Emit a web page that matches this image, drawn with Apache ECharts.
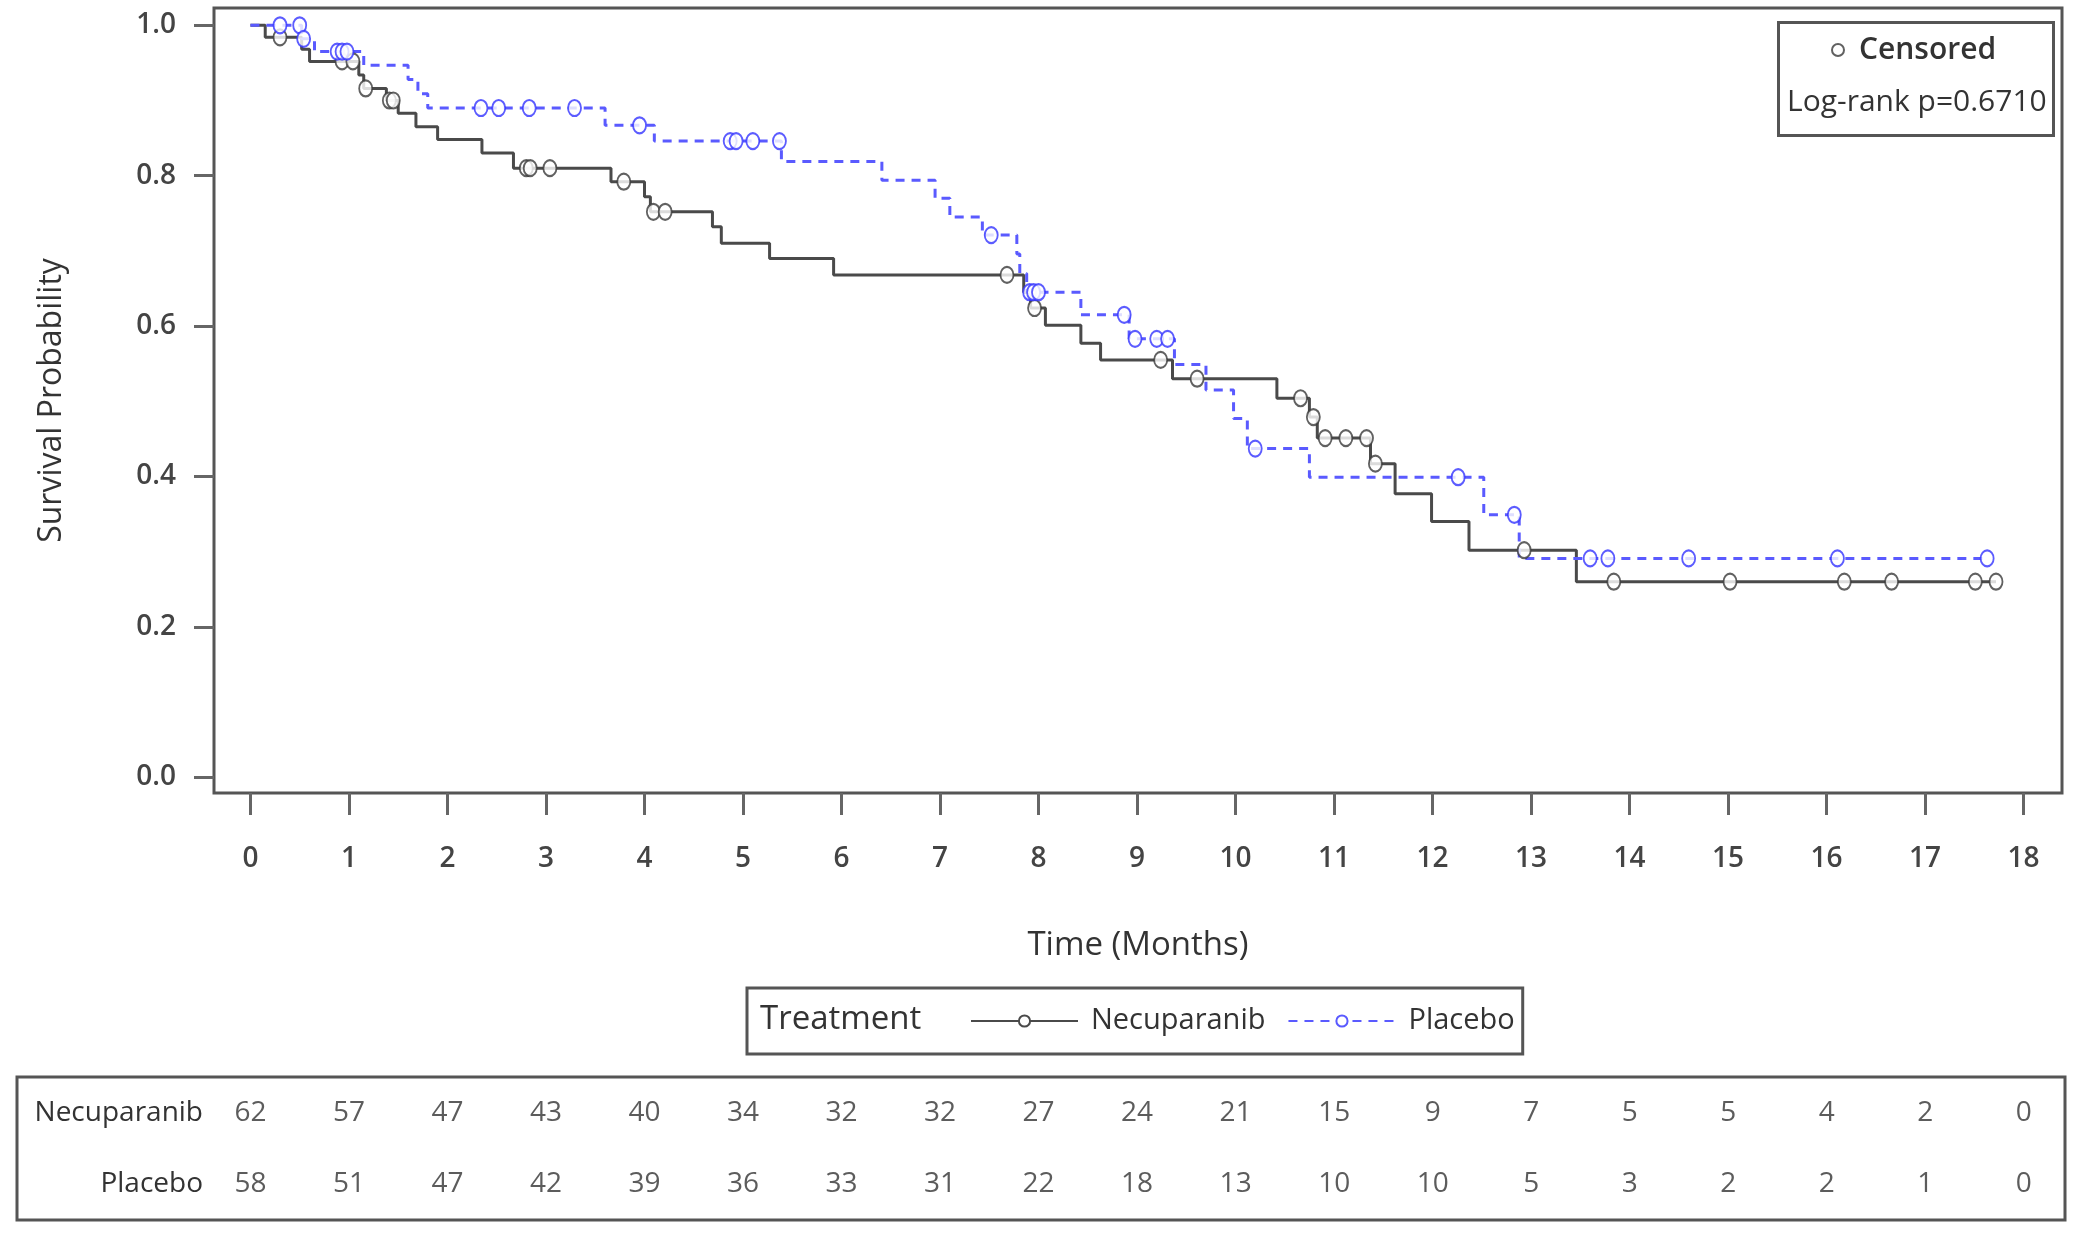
<!DOCTYPE html>
<html>
<head>
<meta charset="utf-8">
<script src="https://cdn.jsdelivr.net/npm/echarts@6/dist/echarts.min.js"></script>
<style>
html,body{margin:0;padding:0;background:#fff;}
#chart{width:2100px;height:1240px;}
</style>
</head>
<body>
<div id="chart"></div>
<script>
// ---- Kaplan-Meier step points (time in months, survival probability) ----
const necuTime = [0, 0.15, 0.52, 0.60, 1.10, 1.15, 1.38, 1.50, 1.68, 1.90, 2.35, 2.67, 3.66, 4.00, 4.06, 4.69, 4.78, 5.27, 5.92, 7.85, 7.92, 8.07, 8.43, 8.63, 9.36, 10.42, 10.75, 10.83, 11.37, 11.62, 11.99, 12.37, 13.46, 17.72];
const necuSurv = [1.0, 0.984, 0.968, 0.952, 0.934, 0.916, 0.900, 0.883, 0.865, 0.848, 0.830, 0.810, 0.792, 0.772, 0.752, 0.732, 0.710, 0.690, 0.668, 0.645, 0.624, 0.601, 0.577, 0.555, 0.530, 0.504, 0.479, 0.451, 0.417, 0.377, 0.340, 0.302, 0.260, 0.260];
const necuCensTime = [0.30, 0.93, 1.04, 1.17, 1.41, 1.45, 2.80, 2.84, 3.04, 3.79, 4.09, 4.21, 7.68, 7.96, 9.24, 9.61, 10.66, 10.79, 10.91, 11.12, 11.33, 11.42, 12.93, 13.84, 15.02, 16.18, 16.66, 17.51, 17.72];
const necuCensSurv = [0.984, 0.952, 0.952, 0.916, 0.900, 0.900, 0.810, 0.810, 0.810, 0.792, 0.752, 0.752, 0.668, 0.624, 0.555, 0.530, 0.504, 0.479, 0.451, 0.451, 0.451, 0.417, 0.302, 0.260, 0.260, 0.260, 0.260, 0.260, 0.260];

const placTime = [0, 0.52, 0.65, 1.15, 1.60, 1.70, 1.80, 3.60, 4.10, 5.39, 6.41, 6.95, 7.10, 7.43, 7.78, 7.81, 7.88, 8.43, 8.92, 9.38, 9.70, 9.98, 10.12, 10.75, 12.52, 12.88, 17.63];
const placSurv = [1.0, 0.982, 0.965, 0.947, 0.928, 0.909, 0.890, 0.867, 0.846, 0.819, 0.794, 0.770, 0.745, 0.721, 0.696, 0.670, 0.645, 0.615, 0.583, 0.549, 0.515, 0.477, 0.437, 0.399, 0.349, 0.291, 0.291];
const placCensTime = [0.30, 0.50, 0.54, 0.88, 0.93, 0.98, 2.34, 2.52, 2.83, 3.29, 3.95, 4.87, 4.93, 5.10, 5.37, 7.52, 7.91, 7.95, 8.00, 8.87, 8.98, 9.20, 9.31, 10.20, 12.26, 12.83, 13.60, 13.78, 14.60, 16.11, 17.63];
const placCensSurv = [1.0, 1.0, 0.982, 0.965, 0.965, 0.965, 0.890, 0.890, 0.890, 0.890, 0.867, 0.846, 0.846, 0.846, 0.846, 0.721, 0.645, 0.645, 0.645, 0.615, 0.583, 0.583, 0.583, 0.437, 0.399, 0.349, 0.291, 0.291, 0.291, 0.291, 0.291];

// ---- axis ticks & number at risk ----
const xTicks = [0,1,2,3,4,5,6,7,8,9,10,11,12,13,14,15,16,17,18];
const yTicks = [0, 0.2, 0.4, 0.6, 0.8, 1.0];
const groups = ['Necuparanib', 'Placebo'];
const riskNecu = [62,57,47,43,40,34,32,32,27,24,21,15,9,7,5,5,4,2,0];
const riskPlac = [58,51,47,42,39,36,33,31,22,18,13,10,10,5,3,2,2,1,0];
const pValueText = 'Log-rank p=0.6710';

const FONT = '"Open Sans", "DejaVu Sans", sans-serif';
const necuColor = '#4a4a4a';
const placColor = '#5a5aff';
const frameColor = '#555555';

const zip = (a, b) => a.map((v, i) => [v, b[i]]);

const chart = echarts.init(document.getElementById('chart'), null, {renderer: 'canvas'});
const option = {
  backgroundColor: '#ffffff',
  animation: false,
  textStyle: {fontFamily: FONT, color: '#333'},
  grid: [
    {left: 214, top: 8, right: 38, bottom: 447, show: true, borderColor: frameColor, borderWidth: 3, backgroundColor: '#fff'},
    {left: 17, top: 1077, right: 35, bottom: 20, show: true, borderColor: frameColor, borderWidth: 3}
  ],
  xAxis: [
    {
      type: 'value', gridIndex: 0, min: -0.37, max: 18.39,
      name: 'Time (Months)', nameLocation: 'middle', nameGap: 136,
      nameTextStyle: {fontSize: 33, color: '#333', fontFamily: FONT},
      axisLine: {show: false, onZero: false},
      axisTick: {show: true, customValues: xTicks, length: 22, lineStyle: {color: '#666', width: 3}},
      axisLabel: {show: true, customValues: xTicks, margin: 52, fontSize: 28, fontWeight: 600, color: '#444', fontFamily: FONT},
      splitLine: {show: false}
    },
    {
      type: 'value', gridIndex: 1, min: -2.369, max: 18.418, show: false
    }
  ],
  yAxis: [
    {
      type: 'value', gridIndex: 0, min: -0.021, max: 1.023,
      name: 'Survival Probability', nameLocation: 'middle', nameGap: 146,
      nameTextStyle: {fontSize: 32, color: '#333', fontFamily: FONT},
      axisLine: {show: false, onZero: false},
      axisTick: {show: true, customValues: yTicks, length: 20, lineStyle: {color: '#666', width: 3}},
      axisLabel: {show: true, customValues: yTicks, margin: 38, fontSize: 28, fontWeight: 600, color: '#444', fontFamily: FONT,
        formatter: v => Number(v).toFixed(1)},
      splitLine: {show: false}
    },
    {
      type: 'category', gridIndex: 1, data: groups, inverse: true,
      axisLine: {show: false, onZero: false}, axisTick: {show: false}, splitLine: {show: false},
      axisLabel: {inside: true, align: 'right', margin: 186, fontSize: 28, color: '#333', fontFamily: FONT}
    }
  ],
  legend: [
    {
      data: ['Necuparanib', 'Placebo'],
      left: 747, top: 988, orient: 'horizontal',
      padding: [14, 8, 14, 223],
      itemGap: 22, itemWidth: 107, itemHeight: 14,
      borderColor: frameColor, borderWidth: 3,
      textStyle: {fontSize: 29, color: '#333', fontFamily: FONT, lineHeight: 38, padding: [0, 0, 0, 8]},
      selectedMode: false
    },
    {
      data: ['Censored'],
      left: 1826, top: 30, z: 20, itemWidth: 12, itemHeight: 12, itemGap: 10,
      textStyle: {fontSize: 30, fontWeight: 600, color: '#333', fontFamily: FONT, padding: [0, 0, 0, 10]},
      selectedMode: false
    }
  ],
  graphic: [
    {type: 'rect', left: 1777, top: 21, z: 2, shape: {width: 275, height: 113},
      style: {fill: '#fff', stroke: frameColor, lineWidth: 3}},
    {type: 'text', left: 1787, top: 87, z: 21,
      style: {text: pValueText, fontSize: 30, fontFamily: FONT, fill: '#333'}},
    {type: 'text', left: 760, top: 1003, z: 21,
      style: {text: 'Treatment', fontSize: 33, fontFamily: FONT, fill: '#333'}}
  ],
  series: [
    {
      name: 'Necuparanib', type: 'line', step: 'end', xAxisIndex: 0, yAxisIndex: 0,
      data: zip(necuTime, necuSurv), showSymbol: false, symbol: 'emptyCircle', symbolSize: 14,
      lineStyle: {color: necuColor, width: 3}, itemStyle: {color: necuColor, borderWidth: 2.5}, z: 3
    },
    {
      name: 'Placebo', type: 'line', step: 'end', xAxisIndex: 0, yAxisIndex: 0,
      data: zip(placTime, placSurv), showSymbol: false, symbol: 'emptyCircle', symbolSize: 14,
      lineStyle: {color: placColor, width: 3, type: [9, 7]}, itemStyle: {color: placColor, borderWidth: 2.5}, z: 4
    },
    {
      name: 'Censored', type: 'scatter', xAxisIndex: 0, yAxisIndex: 0,
      data: zip(necuCensTime, necuCensSurv), symbol: 'emptyCircle', symbolSize: [13, 16],
      itemStyle: {color: '#3a3a3a', borderWidth: 2.5}, z: 5
    },
    {
      name: 'Censored', type: 'scatter', xAxisIndex: 0, yAxisIndex: 0,
      data: zip(placCensTime, placCensSurv), symbol: 'emptyCircle', symbolSize: [13, 16],
      itemStyle: {color: '#3333ff', borderWidth: 2.5}, z: 6
    },
    {
      name: 'At risk: Necuparanib', type: 'scatter', xAxisIndex: 1, yAxisIndex: 1,
      data: riskNecu.map((v, i) => [xTicks[i], groups[0], v]), symbolSize: 0,
      label: {show: true, position: 'inside', formatter: p => String(p.value[2]), fontSize: 28, color: '#333', fontFamily: FONT}
    },
    {
      name: 'At risk: Placebo', type: 'scatter', xAxisIndex: 1, yAxisIndex: 1,
      data: riskPlac.map((v, i) => [xTicks[i], groups[1], v]), symbolSize: 0,
      label: {show: true, position: 'inside', formatter: p => String(p.value[2]), fontSize: 28, color: '#333', fontFamily: FONT}
    }
  ]
};
chart.setOption(option);
</script>
</body>
</html>
